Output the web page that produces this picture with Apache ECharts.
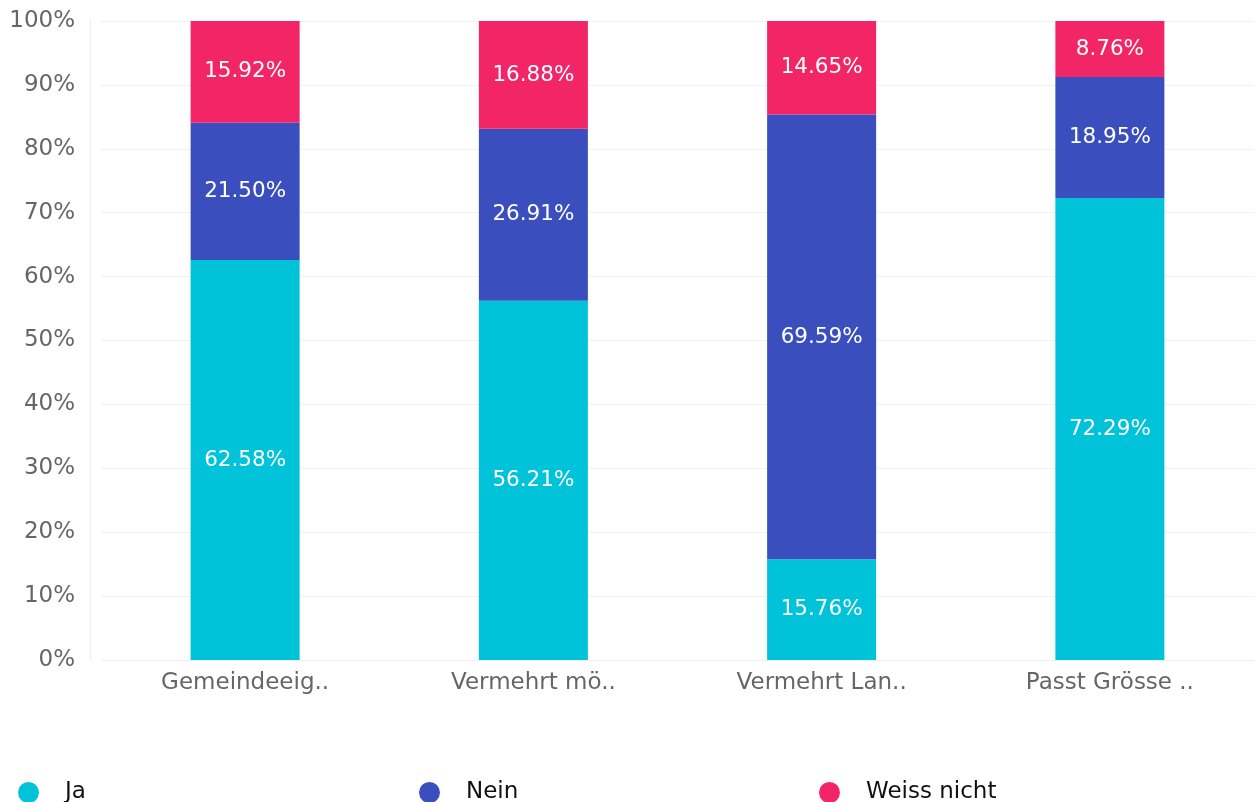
<!DOCTYPE html>
<html>
<head>
<meta charset="utf-8">
<script src="https://cdn.jsdelivr.net/npm/echarts@6/dist/echarts.min.js"></script>
<style>
  html, body { margin: 0; padding: 0; background: #fff; }
  #main { width: 1255px; height: 802px; }
</style>
</head>
<body>
<div id="main"></div>
<script>
  // Kategorien (abgekürzt wie im Original)
  var categories = ['Gemeindeeig..', 'Vermehrt mö..', 'Vermehrt Lan..', 'Passt Grösse ..'];
  var jaValues = [62.58, 56.21, 15.76, 72.29];
  var neinValues = [21.50, 26.91, 69.59, 18.95];
  var weissNichtValues = [15.92, 16.88, 14.65, 8.76];
  var seriesNames = ['Ja', 'Nein', 'Weiss nicht'];
  var colors = ['#00C3DA', '#3A4FBD', '#F22566'];

  var myChart = echarts.init(document.getElementById('main'));

  var barLabel = {
    show: true,
    position: 'inside',
    color: '#fff',
    fontSize: 21.5,
    fontFamily: 'DejaVu Sans',
    formatter: function (p) { return p.value.toFixed(2) + '%'; }
  };

  function makeLegend(name, left) {
    return {
      data: [name],
      left: left,
      top: 776,
      icon: 'circle',
      itemWidth: 21,
      itemHeight: 21,
      itemGap: 0,
      textStyle: { fontSize: 23, color: '#111', fontFamily: 'DejaVu Sans', padding: [0, 0, 0, 21] }
    };
  }

  var option = {
    color: colors,
    animation: false,
    grid: { left: 101, right: 1, top: 21, bottom: 142 },
    legend: [
      makeLegend('Ja', 13),
      makeLegend('Nein', 414),
      makeLegend('Weiss nicht', 814)
    ],
    xAxis: {
      type: 'category',
      data: categories,
      axisLine: { lineStyle: { color: '#eee' } },
      axisTick: { show: false },
      axisLabel: { color: '#666', fontSize: 23, fontFamily: 'DejaVu Sans', margin: 12 }
    },
    yAxis: {
      type: 'value',
      min: 0,
      max: 100,
      interval: 10,
      offset: 11,
      axisLine: { show: true, lineStyle: { color: '#eee' } },
      axisTick: { show: false },
      splitLine: { lineStyle: { color: '#f2f2f2' } },
      axisLabel: { color: '#666', fontSize: 23, fontFamily: 'DejaVu Sans', margin: 15, padding: [4, 0, 0, 0], formatter: '{value}%' }
    },
    series: [
      { name: seriesNames[0], type: 'bar', stack: 'total', barWidth: 109, data: jaValues, label: barLabel },
      { name: seriesNames[1], type: 'bar', stack: 'total', barWidth: 109, data: neinValues, label: barLabel },
      { name: seriesNames[2], type: 'bar', stack: 'total', barWidth: 109, data: weissNichtValues, label: barLabel }
    ]
  };

  myChart.setOption(option);
  window.addEventListener('resize', function () { myChart.resize(); });
</script>
</body>
</html>
